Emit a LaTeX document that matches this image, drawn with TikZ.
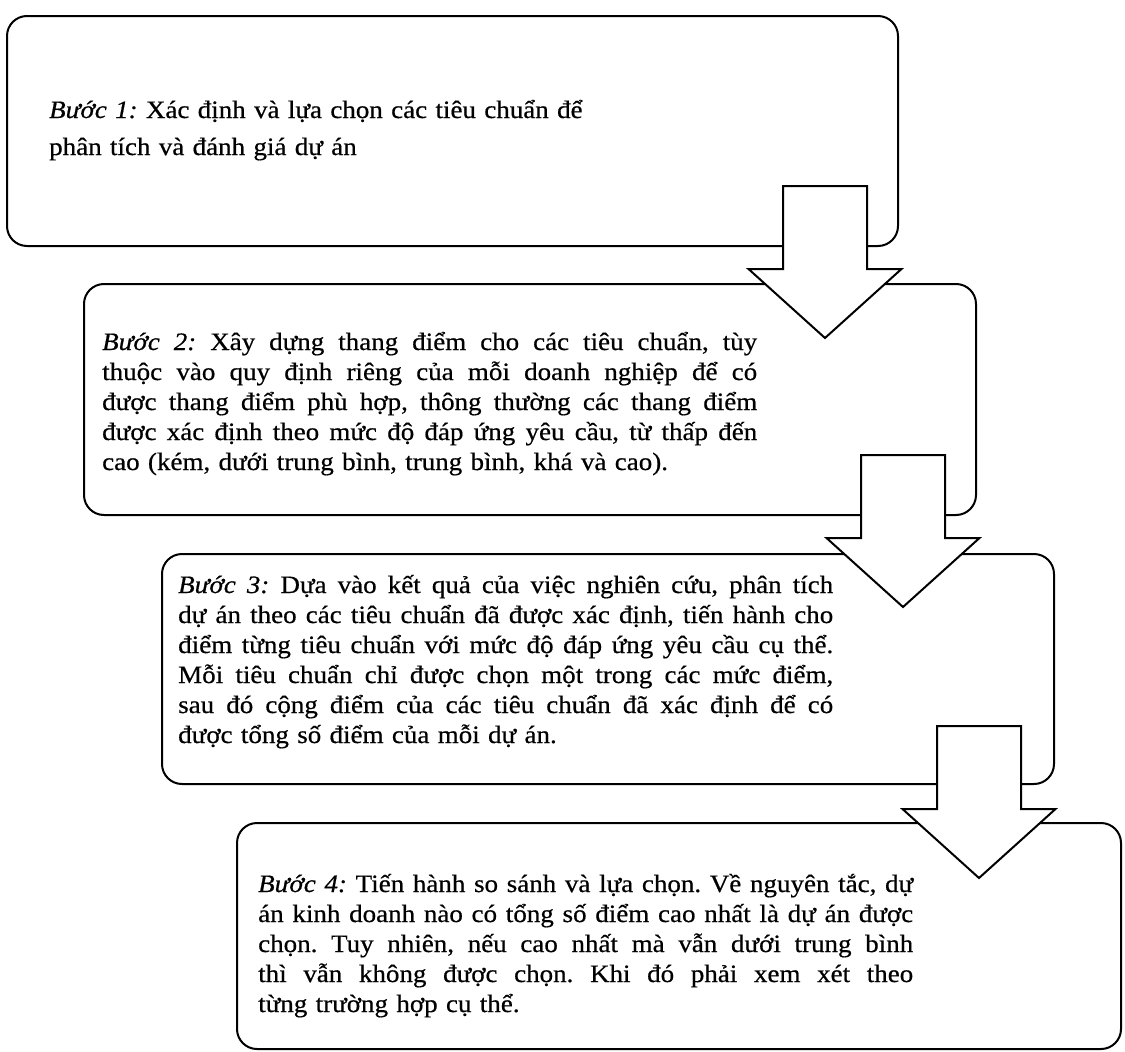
\documentclass[tikz,border=0pt]{standalone}
\usepackage{fontspec}
\setmainfont{Liberation Serif}[FakeStretch=1.08,FakeBold=0.6]
\setlength{\parindent}{0pt}
\frenchspacing
\newcommand{\jline}[1]{\makebox[655pt][s]{\spaceskip=0pt\xspaceskip=0pt\relax #1}\par}
\begin{document}
\begin{tikzpicture}[x=1pt,y=-1pt,
  stepbox/.style={draw=black,line width=2pt,rounded corners=20pt,fill=none},
  steptext/.style={anchor=base west,inner sep=0pt,text width=660pt,align=left,
    font=\fontsize{25}{30}\selectfont},
  arr/.style={draw=black,fill=white,line width=2pt,line join=miter},
  downarr/.pic={\path[arr] (-42,0) -- (42,0) -- (42,83) -- (76.5,83) -- (0,152)
     -- (-76.5,83) -- (-42,83) -- cycle;}]
\useasboundingbox (0,0) rectangle (1125,1052);
% boxes
\draw[stepbox] (7,16) rectangle (898,246);
\draw[stepbox] (84,284) rectangle (976,515);
\draw[stepbox] (162,554) rectangle (1054,784);
\draw[stepbox] (237,823) rectangle (1121,1049);
% texts
\node[steptext,font=\fontsize{25}{37}\selectfont] (t1) at (49,118)
  {\textit{Bước 1:} Xác định và lựa chọn các tiêu chuẩn để\par
   phân tích và đánh giá dự án};
\node[steptext] (t2) at (102,350)
  {\jline{\textit{Bước 2:} Xây dựng thang điểm cho các tiêu chuẩn, tùy}
   \jline{thuộc vào quy định riêng của mỗi doanh nghiệp để có}
   \jline{được thang điểm phù hợp, thông thường các thang điểm}
   \jline{được xác định theo mức độ đáp ứng yêu cầu, từ thấp đến}
   cao (kém, dưới trung bình, trung bình, khá và cao).};
\node[steptext] (t3) at (178,593)
  {\jline{\textit{Bước 3:} Dựa vào kết quả của việc nghiên cứu, phân tích}
   \jline{dự án theo các tiêu chuẩn đã được xác định, tiến hành cho}
   \jline{điểm từng tiêu chuẩn với mức độ đáp ứng yêu cầu cụ thể.}
   \jline{Mỗi tiêu chuẩn chỉ được chọn một trong các mức điểm,}
   \jline{sau đó cộng điểm của các tiêu chuẩn đã xác định để có}
   được tổng số điểm của mỗi dự án.};
\node[steptext] (t4) at (258,892)
  {\jline{\textit{Bước 4:} Tiến hành so sánh và lựa chọn. Về nguyên tắc, dự}
   \jline{án kinh doanh nào có tổng số điểm cao nhất là dự án được}
   \jline{chọn. Tuy nhiên, nếu cao nhất mà vẫn dưới trung bình}
   \jline{thì vẫn không được chọn. Khi đó phải xem xét theo}
   từng trường hợp cụ thể.};
% block arrows
\pic (a1) at (825,186) {downarr};
\pic (a2) at (903,455) {downarr};
\pic (a3) at (979,726) {downarr};
\end{tikzpicture}
\end{document}
